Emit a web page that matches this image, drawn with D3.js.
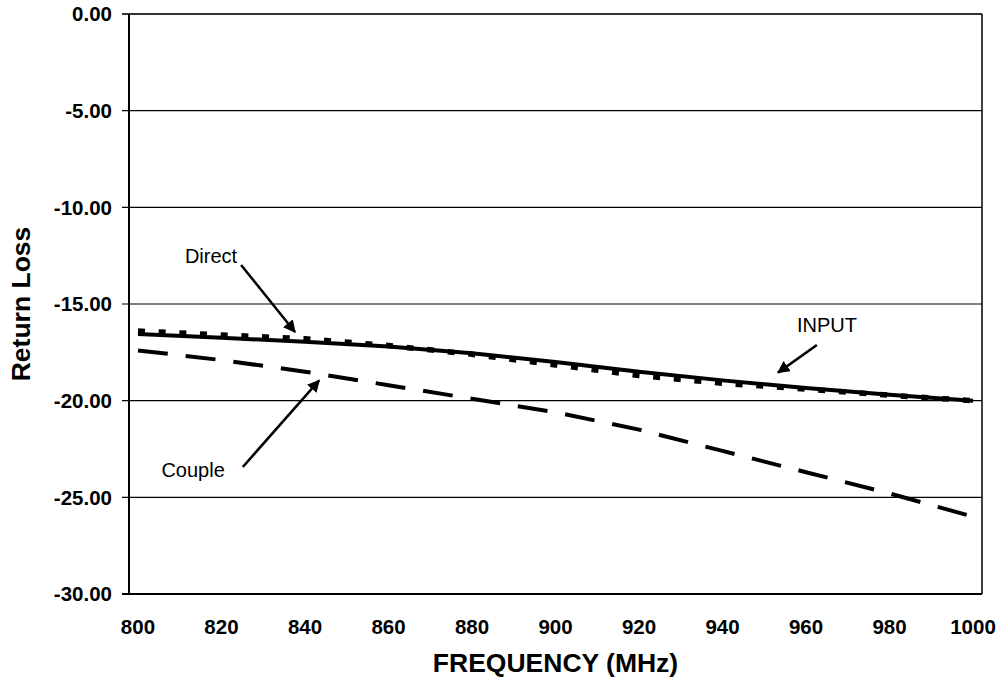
<!DOCTYPE html>
<html>
<head>
<meta charset="utf-8">
<script src="https://cdn.jsdelivr.net/npm/d3@7"></script>
<style>
  body { margin: 0; background: #fff; }
  text { font-family: "Liberation Sans", Arial, sans-serif; }
</style>
</head>
<body>
<svg class="main-svg" width="997" height="679"></svg>
<script>
var freqs = [800, 820, 840, 860, 880, 900, 920, 940, 960, 980, 1000];
var inputLoss  = [-16.55, -16.75, -16.95, -17.2, -17.55, -18.0, -18.5, -18.95, -19.35, -19.7, -20.0];
var directLoss = [-16.4, -16.6, -16.8, -17.15, -17.6, -18.15, -18.7, -19.1, -19.4, -19.72, -20.0];
var coupleLoss = [-17.4, -17.9, -18.5, -19.2, -19.9, -20.6, -21.5, -22.6, -23.7, -24.8, -26.0];
var yTicks = [0, -5, -10, -15, -20, -25, -30];

// annotations, in data units: [label, textX, textY, tailX, tailY, tipX, tipY]
var notes = [
  ['Direct', 817.5, -12.9, 824.7, -12.98, 837.6, -16.45],
  ['Couple', 813.2, -23.95, 825.1, -23.43, 843.4, -18.95],
  ['INPUT', 965, -16.45, 962.6, -17.12, 953.3, -18.55]
];

var d3 = window.d3;
var plotLeft = 129, plotRight = 982, plotTop = 14, plotBottom = 594;

var svg = d3.select('.main-svg');

var x = d3.scaleLinear().domain([797.85, 1002.15]).range([plotLeft, plotRight]);
var y = d3.scaleLinear().domain([-30, 0]).range([plotBottom, plotTop]);

svg.append('defs').append('marker')
  .attr('id', 'arrow')
  .attr('viewBox', '0 0 10 10')
  .attr('refX', 9).attr('refY', 5)
  .attr('markerWidth', 5).attr('markerHeight', 5)
  .attr('orient', 'auto')
  .append('path').attr('d', 'M0,0L10,5L0,10z').attr('fill', '#000');

// gridlines + left tick marks
svg.selectAll('.grid')
  .data(yTicks)
  .enter().append('line')
  .attr('class', 'grid')
  .attr('x1', plotLeft - 7).attr('x2', plotRight)
  .attr('y1', d => y(d)).attr('y2', d => y(d))
  .attr('stroke', d => d === 0 ? '#333' : '#000')
  .attr('stroke-width', d => (d === 0 || d === -30) ? 2 : 1.2);

svg.selectAll('.ylab')
  .data(yTicks)
  .enter().append('text')
  .attr('x', plotLeft - 17)
  .attr('y', d => y(d))
  .attr('dy', '0.35em')
  .attr('text-anchor', 'end')
  .attr('font-size', 20.5)
  .attr('font-weight', 'bold')
  .text(d => d.toFixed(2));

svg.selectAll('.xlab')
  .data(freqs)
  .enter().append('text')
  .attr('x', d => x(d))
  .attr('y', 634)
  .attr('text-anchor', 'middle')
  .attr('font-size', 20.5)
  .attr('font-weight', 'bold')
  .text(d => d);

// axes frame
svg.append('line').attr('x1', plotLeft).attr('x2', plotLeft).attr('y1', plotTop).attr('y2', plotBottom)
  .attr('stroke', '#000').attr('stroke-width', 2);
svg.append('line').attr('x1', plotRight).attr('x2', plotRight).attr('y1', plotTop).attr('y2', plotBottom)
  .attr('stroke', '#000').attr('stroke-width', 1.5);

var line = d3.line().x((d, i) => x(freqs[i])).y(d => y(d));

svg.append('path').datum(directLoss)
  .attr('d', line).attr('fill', 'none').attr('stroke', '#000')
  .attr('stroke-width', 5.5).attr('stroke-dasharray', '7,13.7');
svg.append('path').datum(inputLoss)
  .attr('d', line).attr('fill', 'none').attr('stroke', '#000')
  .attr('stroke-width', 4);
svg.append('path').datum(coupleLoss)
  .attr('d', line).attr('fill', 'none').attr('stroke', '#000')
  .attr('stroke-width', 4).attr('stroke-dasharray', '30,18');

notes.forEach(n => {
  svg.append('text')
    .attr('x', x(n[1])).attr('y', y(n[2]))
    .attr('text-anchor', 'middle')
    .attr('font-size', 20)
    .text(n[0]);
  svg.append('line')
    .attr('x1', x(n[3])).attr('y1', y(n[4]))
    .attr('x2', x(n[5])).attr('y2', y(n[6]))
    .attr('stroke', '#000').attr('stroke-width', 2.5)
    .attr('marker-end', 'url(#arrow)');
});

svg.append('text')
  .attr('x', (plotLeft + plotRight) / 2).attr('y', 672)
  .attr('text-anchor', 'middle')
  .attr('font-size', 26.5).attr('font-weight', 'bold')
  .text('FREQUENCY (MHz)');

svg.append('text')
  .attr('transform', 'translate(30,' + ((plotTop + plotBottom) / 2) + ') rotate(-90)')
  .attr('text-anchor', 'middle')
  .attr('font-size', 26.5).attr('font-weight', 'bold')
  .text('Return Loss');
</script>
</body>
</html>
